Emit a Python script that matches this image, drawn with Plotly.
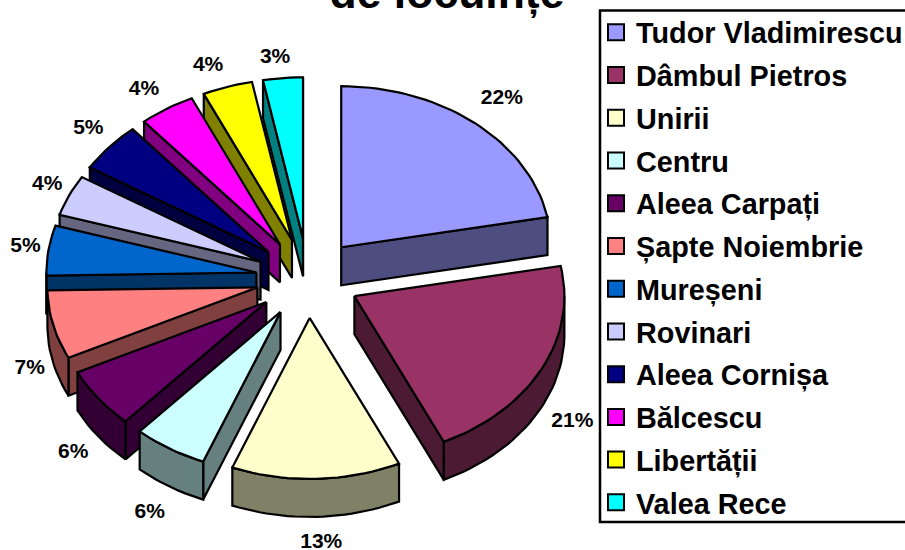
import math
import plotly.graph_objects as go

names = ["Tudor Vladimirescu", "Dâmbul Pietros", "Unirii", "Centru", "Aleea Carpați",
         "Șapte Noiembrie", "Mureșeni", "Rovinari", "Aleea Cornișa", "Bălcescu",
         "Libertății", "Valea Rece"]
values = [22.0, 21.0, 13.0, 5.7, 6.1, 6.9, 5.0, 4.1, 5.0, 4.3, 3.85, 3.05]
top_colors = ["#9999FF", "#993366", "#FFFFCC", "#CCFFFF", "#660066", "#FF8080",
              "#0066CC", "#CCCCFF", "#000080", "#FF00FF", "#FFFF00", "#00FFFF"]
side_colors = ["#4D4D80", "#4D1A33", "#808066", "#668080", "#330033", "#804040",
               "#003366", "#666680", "#000040", "#800080", "#808000", "#008080"]
label_reach = [1.2, 1.17, 1.15, 1.18, 1.15, 1.115, 1.115, 1.13, 1.15, 1.15, 1.16, 1.14]
label_nudge_x = [0, -1, 4, 0, 0, 0, 1, 3, 3, -6, -9, -5]
label_nudge_y = [0, 2, 2, 1, 2, 2, -1, -2, -3, 1, 3, 2]

W, H = 905, 550
CX, CY, A = 308, 278, 210      # pie centre and horizontal radius, px
TILT = 161 / 210               # vertical squash of the ellipse
DEPTH = 38 / 210               # wall height
EXPLODE = 0.248


def pt(theta, r=1.0):
    t = math.radians(theta)
    return r * math.sin(t), r * math.cos(t) * TILT


def arc(a, b, step=2.0):
    n = max(2, int(abs(b - a) / step) + 1)
    return [pt(a + (b - a) * i / n) for i in range(n + 1)]


def poly(points, color):
    return go.Scatter(x=[p[0] for p in points] + [points[0][0]],
                      y=[p[1] for p in points] + [points[0][1]],
                      mode="lines", fill="toself", fillcolor=color,
                      line=dict(color="black", width=2.2),
                      showlegend=False, hoverinfo="skip")


total = sum(values)
slices, start = [], 0.0
for i, v in enumerate(values):
    sweep = 360 * v / total
    mid = start + sweep / 2
    ox, oy = pt(mid, EXPLODE)
    slices.append(dict(i=i, s=start, e=start + sweep, m=mid, ox=ox, oy=oy))
    start += sweep

fig = go.Figure()
label_x, label_y, label_t = [], [], []
for sl in sorted(slices, key=lambda q: -q["oy"]):
    i, s, e, ox, oy = sl["i"], sl["s"], sl["e"], sl["ox"], sl["oy"]
    mv = lambda P, d=0.0: [(p[0] + ox, p[1] + oy - d) for p in P]
    walls = []
    for ang, vis in ((s, math.sin(math.radians(s)) < 0), (e, math.sin(math.radians(e)) > 0)):
        if vis:
            edge = [(0, 0), pt(ang)]
            walls.append(mv(edge) + mv(edge, DEPTH)[::-1])
    lo, hi = max(s, 90), min(e, 270)
    if hi > lo:
        curve = arc(lo, hi)
        walls.append(mv(curve) + mv(curve, DEPTH)[::-1])
    for w in walls:
        fig.add_trace(poly(w, side_colors[i]))
    fig.add_trace(poly(mv([(0, 0)] + arc(s, e)), top_colors[i]))
    lx, ly = pt(sl["m"], label_reach[i])
    if math.cos(math.radians(sl["m"])) < 0:
        ly -= DEPTH
    label_x.append(lx + ox + label_nudge_x[i] / A)
    label_y.append(ly + oy - label_nudge_y[i] / A)
    label_t.append(f"{round(values[i] / total * 100)}%")

fig.add_trace(go.Scatter(x=label_x, y=label_y, text=label_t, mode="text",
                         textposition="middle center", cliponaxis=False,
                         textfont=dict(family="Liberation Sans", size=21, color="black"),
                         texttemplate="<b>%{text}</b>",
                         showlegend=False, hoverinfo="skip"))

for n, c in zip(names, top_colors):
    fig.add_trace(go.Scatter(x=[None], y=[None], mode="markers", name=n, legendgroup=n,
                             marker=dict(symbol="square", size=17, color=c,
                                         line=dict(color="black", width=2))))

fig.update_layout(
    width=W, height=H, autosize=False,
    margin=dict(l=0, r=0, t=0, b=0, pad=0, autoexpand=False),
    paper_bgcolor="white", plot_bgcolor="white", showlegend=True,
    title=dict(text="<b>de locuințe</b>", x=447 / W, xanchor="center",
               y=1 - 8 / H, yanchor="bottom", yref="container",
               font=dict(family="Liberation Sans", size=44.5, color="black")),
    xaxis=dict(range=[-CX / A, (W - CX) / A], visible=False, fixedrange=True),
    yaxis=dict(range=[(CY - H) / A, CY / A], visible=False, fixedrange=True),
    shapes=[dict(type="rect", xref="paper", yref="paper", x0=600 / W, x1=1.02,
                 y0=1 - 522 / H, y1=1 - 10.5 / H,
                 line=dict(color="black", width=2.5), fillcolor="white", layer="below")],
    legend=dict(x=596 / W, xanchor="left", y=1 - 7 / H, yanchor="top",
                bgcolor="rgba(0,0,0,0)", borderwidth=0,
                tracegroupgap=2.3, itemclick=False, itemdoubleclick=False,
                font=dict(family="Liberation Sans", size=28.8, color="black", weight="bold")),
)
fig.write_html("out.html", config=dict(displayModeBar=False),
               post_script="document.body.style.margin='0';document.body.style.overflow='hidden';")
